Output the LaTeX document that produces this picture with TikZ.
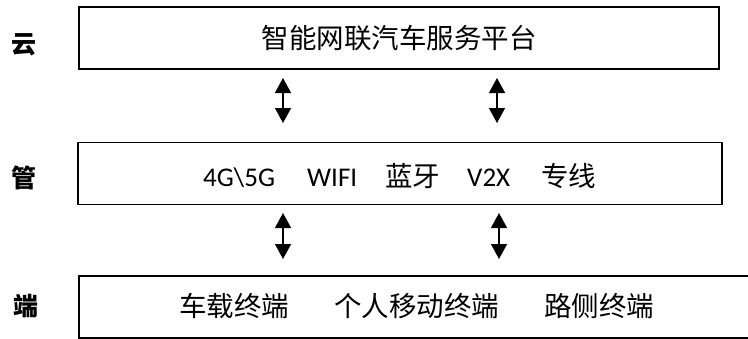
\documentclass[tikz,border=0pt]{standalone}
\usepackage{fontspec}
\setmainfont{Carlito}
\newfontfamily\cjk{Noto Sans CJK SC}
\usetikzlibrary{arrows.meta}
\tikzset{
  layer/.style={draw=black, line width=1.6bp, minimum height=62bp, inner sep=0pt},
  item/.style={inner sep=0pt, anchor=base west, font=\fontsize{27bp}{30bp}\selectfont},
  citem/.style={item, font=\cjk\fontsize{27.5bp}{30bp}\selectfont},
  side/.style={inner sep=0pt, anchor=base west, font=\cjk\bfseries\fontsize{25bp}{28bp}\selectfont},
  biarrow/.style={line width=1.4bp, {Triangle[length=15bp,width=16bp]}-{Triangle[length=15bp,width=16bp]}}
}
\begin{document}
\begin{tikzpicture}[x=1bp,y=-1bp]
\useasboundingbox (0,0) rectangle (748,338);
\begin{scope}
\clip (0,0) rectangle (748,338);
% layers
\node[layer, minimum width=640bp] (cloud) at (399,38) {};
\node[layer, minimum width=644bp] (pipe) at (400,173.5) {};
\node[layer, minimum width=700bp, anchor=north west] (edge) at (78,275) {};
\end{scope}
% side labels
\node[side] (lc) at (11,53) {云};
\node[side] (lp) at (11,187) {管};
\node[side] (le) at (13,315) {端};
% cloud text
\node[citem, anchor=base] (t1) at (399,48) {智能网联汽车服务平台};
% pipe items
\node[item] (p1) at (203,186) {4G\textbackslash 5G};
\node[item] (p2) at (307,186) {WIFI};
\node[citem] (p3) at (385,186) {蓝牙};
\node[item] (p4) at (467,186) {V2X};
\node[citem] (p5) at (541,186) {专线};
% edge items
\node[citem] (e1) at (179,316) {车载终端};
\node[citem] (e2) at (334,316) {个人移动终端};
\node[citem] (e3) at (544,316) {路侧终端};
% arrows
\coordinate (a1t) at (283,78);  \coordinate (a1b) at (283,123);
\coordinate (a2t) at (497,78);  \coordinate (a2b) at (497,123);
\coordinate (a3t) at (283,213); \coordinate (a3b) at (283,259);
\coordinate (a4t) at (499,213); \coordinate (a4b) at (499,259);
\draw[biarrow] (a1t) -- (a1b);
\draw[biarrow] (a2t) -- (a2b);
\draw[biarrow] (a3t) -- (a3b);
\draw[biarrow] (a4t) -- (a4b);
\end{tikzpicture}
\end{document}
